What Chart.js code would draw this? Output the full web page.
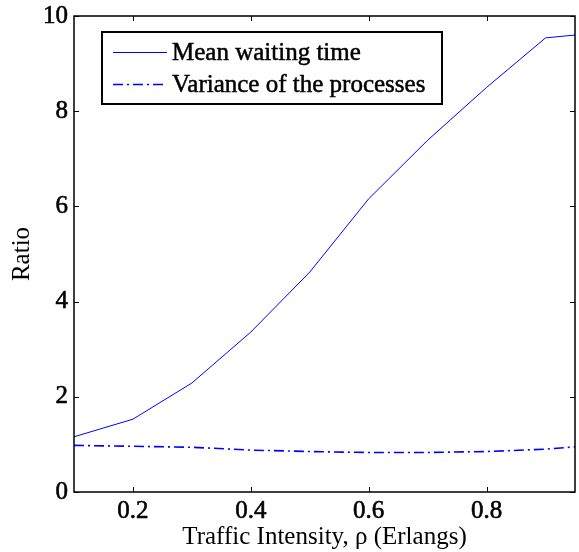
<!DOCTYPE html>
<html><head><meta charset="utf-8">
<script src="https://cdn.jsdelivr.net/npm/chart.js@4"></script>
<style>html,body{margin:0;padding:0;background:#fff}#wrap{width:579px;height:552px}</style>
</head><body><div id="wrap"><canvas id="c"></canvas></div>
<script>
const rho = [0.1,0.2,0.3,0.4,0.5,0.6,0.7,0.8,0.9,0.95];
const meanWait = [1.16,1.53,2.29,3.36,4.62,6.16,7.39,8.5,9.54,9.6];
const variance = [0.98,0.96,0.94,0.88,0.85,0.83,0.83,0.85,0.90,0.95];
const xTicks = [0.2,0.4,0.6,0.8];
const yTicks = [0,2,4,6,8,10];
const seriesNames = ['Mean waiting time','Variance of the processes'];
const xTitle = 'Traffic Intensity, \u03C1 (Erlangs)';
const yTitle = 'Ratio';

const FONT = '"Liberation Serif","Times New Roman",serif';

const framePlugin = {
  id: 'frame',
  afterDraw(chart) {
    const ctx = chart.ctx, a = chart.chartArea;
    const xs = chart.scales.x, ys = chart.scales.y;
    ctx.save();
    ctx.strokeStyle = '#000';
    ctx.lineWidth = 1.5;
    ctx.strokeRect(a.left, a.top, a.right - a.left, a.bottom - a.top);
    ctx.lineWidth = 1;
    const tl = 5;
    ctx.beginPath();
    xTicks.forEach(v => {
      const px = Math.round(xs.getPixelForValue(v)) + 0.5;
      ctx.moveTo(px, a.bottom); ctx.lineTo(px, a.bottom - tl);
      ctx.moveTo(px, a.top); ctx.lineTo(px, a.top + tl);
    });
    yTicks.forEach(v => {
      const py = Math.round(ys.getPixelForValue(v)) + 0.5;
      ctx.moveTo(a.left, py); ctx.lineTo(a.left + tl, py);
      ctx.moveTo(a.right, py); ctx.lineTo(a.right - tl, py);
    });
    ctx.stroke();
    // legend
    const bx = 102, by = 32, bw = 340, bh = 72;
    ctx.fillStyle = '#fff';
    ctx.fillRect(bx, by, bw, bh);
    ctx.lineWidth = 2;
    ctx.strokeStyle = '#000';
    ctx.strokeRect(bx, by, bw, bh);
    ctx.font = '25px ' + FONT;
    ctx.textBaseline = 'middle';
    chart.data.datasets.forEach((ds, i) => {
      const y = by + 20 + i * 32;
      ctx.strokeStyle = ds.borderColor;
      ctx.lineWidth = ds.borderWidth;
      ctx.setLineDash(ds.borderDash || []);
      ctx.beginPath();
      ctx.moveTo(bx + 11, y + 0.5); ctx.lineTo(bx + 65, y + 0.5);
      ctx.stroke();
      ctx.setLineDash([]);
      ctx.fillStyle = '#000';
      ctx.strokeStyle = '#000';
      ctx.lineWidth = 0.5;
      ctx.fillText(ds.label, bx + 70, y + 1);
      ctx.strokeText(ds.label, bx + 70, y + 1);
    });
    ctx.restore();
  }
};

new Chart(document.getElementById('c'), {
  type: 'line',
  data: {
    datasets: [
      { label: seriesNames[0], data: rho.map((x, i) => ({x, y: meanWait[i]})),
        borderColor: '#0000ff', borderWidth: 1, pointRadius: 0, tension: 0, fill: false },
      { label: seriesNames[1], data: rho.map((x, i) => ({x, y: variance[i]})),
        borderColor: '#0000ff', borderWidth: 1.6, borderDash: [10, 4, 2, 4], pointRadius: 0, tension: 0, fill: false }
    ]
  },
  options: {
    responsive: true,
    maintainAspectRatio: false,
    animation: false,
    layout: { padding: { top: 16, right: 4, left: 0, bottom: 0 } },
    plugins: { legend: { display: false }, tooltip: { enabled: false } },
    scales: {
      x: {
        type: 'linear', min: 0.1, max: 0.95,
        afterBuildTicks: s => { s.ticks = xTicks.map(v => ({value: v})); },
        afterFit: s => { s.height = 60; s.paddingLeft = 0; s.paddingRight = 0; },
        grid: { display: false, drawTicks: false },
        border: { display: false },
        ticks: { padding: 4, color: '#000', textStrokeColor: '#000', textStrokeWidth: 0.6,
                 font: { family: FONT, size: 25, weight: 'normal' },
                 callback: v => v.toFixed(1) },
        title: { display: true, text: xTitle, color: '#000', padding: { top: 0, bottom: 0 },
                 font: { family: FONT, size: 25, weight: 'normal' } }
      },
      y: {
        min: 0, max: 10,
        afterBuildTicks: s => { s.ticks = yTicks.map(v => ({value: v})); },
        afterFit: s => { s.width = 74; s.paddingTop = 0; s.paddingBottom = 0; },
        grid: { display: false, drawTicks: false },
        border: { display: false },
        ticks: { padding: 6, color: '#000', textStrokeColor: '#000', textStrokeWidth: 0.6,
                 font: { family: FONT, size: 25, weight: 'normal' } },
        title: { display: true, text: yTitle, color: '#000', padding: { top: 7, bottom: 0 },
                 font: { family: FONT, size: 25, weight: 'normal' } }
      }
    }
  },
  plugins: [framePlugin]
});
</script></body></html>
